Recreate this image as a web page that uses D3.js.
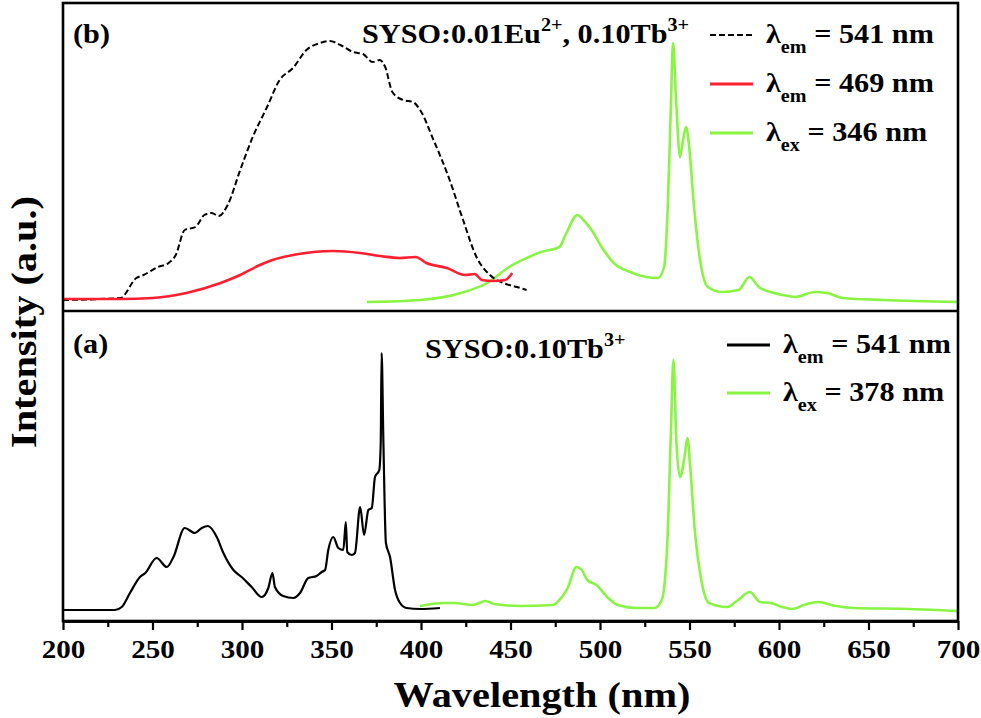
<!DOCTYPE html>
<html>
<head>
<meta charset="utf-8">
<script src="https://cdn.jsdelivr.net/npm/d3@7"></script>
<style>
  body { margin: 0; background: #fff; }
  svg { display: block; }
</style>
</head>
<body>
<div id="chart"></div>
<script>
// (b) SYSO:0.01Eu2+, 0.10Tb3+  -- [wavelength nm, intensity a.u.]
const exc541b = [[200,2],[232,4],[241,24],[245,27],[253,35],[259,39],[263,47],[268,72],[274,75],[279,87],[283,89],[287,86],[292,97],[299,132],[306,165],[314,195],[321,222],[328.5,234],[336,252],[343.6,259],[349,261],[355,257],[362,250],[367.6,248],[373,240],[377,242],[380,235],[384,210],[390,202],[395.5,200],[399.5,192],[407,162],[416,122],[423.5,82],[431,45],[438.5,27],[446,19],[453.6,15],[459,12]];
const exc469b = [[200,3],[232,3],[250,4],[269,9],[288,19],[299,27],[310,37],[317,42],[328.5,47],[340,50],[351,51],[366,49],[377,46],[388,44],[397,45],[403,39],[414.5,34],[424.6,27],[430,28],[434,22],[440,21],[447,22],[451,29]];
const emi346b = [[369.8,0],[399.7,2],[422.3,9],[438,20],[449.2,35],[460.3,45],[467,50],[477.3,55],[480.7,67],[487.4,87],[490.8,82],[495.3,72],[500.9,55],[507.7,39],[516.8,30],[525.7,25],[532.4,24],[535.8,35],[538,102],[539.7,202],[540.8,259],[542.5,202],[544.7,145],[546.4,162],[548.1,175],[550,152],[552.2,102],[555.9,42],[560.3,15],[568.2,10],[577.4,12],[583.5,25],[588.7,15],[595.4,10],[602.2,7],[608.9,5],[620.1,10],[626.8,9],[635.8,4],[658.4,2],[700,0]];

// (a) SYSO:0.10Tb3+
const exc541a = [[200,0],[229,0],[232.8,3],[237.4,17],[243,33],[246,37],[252.3,52],[258,43],[261.7,53],[268,82],[273.7,77],[277.5,82],[281,84],[285.9,73],[289.6,57],[295.2,40],[299.8,33],[305.4,23],[311,13],[314.7,22],[317,37],[318.4,23],[323,14],[328.7,12],[332.4,17],[337,32],[341.7,34],[344.5,38],[346.4,40],[348.2,60],[351,73],[353.8,62],[356.6,60],[358,88],[358.8,58],[361.3,55],[363.1,57],[366,103],[368.2,75],[370.6,100],[372.5,102],[374.3,133],[376.7,140],[377.5,167],[378,257],[379,167],[380.4,67],[382.7,53],[385.5,20],[388.3,7],[392,2],[399.4,1],[410.6,2]];
const emi378a = [[399.4,4],[412.6,7],[418.7,7],[428.9,5],[436,9],[441,6],[455.3,4],[473.6,5],[478.7,13],[481.7,21],[486.8,43],[489.8,40],[492.9,30],[498,25],[504,13],[510,5],[520.3,2],[530.4,2],[534.5,10],[537.6,67],[539.7,183],[541,250],[542.7,167],[544.7,133],[547.2,153],[548.8,172],[550.4,143],[552.8,83],[556.9,27],[560.9,7],[571,3],[577.1,10],[583.7,18],[589.4,8],[595.5,7],[601.6,3],[607.6,1],[613.7,5],[621.8,8],[632,4],[642,2],[672.6,1],[700,-1]];

const majorTicks = [200, 250, 300, 350, 400, 450, 500, 550, 600, 650, 700];
const minorTicks = [225, 275, 325, 375, 425, 475, 525, 575, 625, 675];

const legendB = [
  {sub: 'em', value: '541', color: '#000', dash: '6,3'},
  {sub: 'em', value: '469', color: '#ff1f2f', dash: null},
  {sub: 'ex', value: '346', color: '#88f543', dash: null}
];
const legendA = [
  {sub: 'em', value: '541', color: '#000', dash: null},
  {sub: 'ex', value: '378', color: '#88f543', dash: null}
];

const W = 981, H = 718;
const plotLeft = 63, plotRight = 958, plotTop = 3, plotMid = 311, plotBottom = 621;
const serif = '"Liberation Serif"';
const stretch = 1.12;

const svg = d3.select('#chart').append('svg')
    .attr('width', W)
    .attr('height', H)
    .attr('font-family', serif)
    .attr('font-weight', 'bold');

svg.append('rect').attr('width', W).attr('height', H).attr('fill', '#fff');

const x = d3.scaleLinear().domain([200, 700]).range([plotLeft, plotRight]);
const yB = d3.scaleLinear().domain([-9, 299]).range([plotMid, plotTop]);
const yA = d3.scaleLinear().domain([-11, 299]).range([plotBottom, plotMid]);

function drawLine(data, y, color, width, dash) {
  const line = d3.line()
      .x(d => x(d[0]))
      .y(d => y(d[1]))
      .curve(d3.curveMonotoneX);
  svg.append('path')
      .datum(data)
      .attr('d', line)
      .attr('fill', 'none')
      .attr('stroke', color)
      .attr('stroke-width', width)
      .attr('stroke-linejoin', 'round')
      .attr('stroke-dasharray', dash);
}

// top panel curves
drawLine(emi346b, yB, '#88f543', 2.6, null);
drawLine(exc541b, yB, '#000', 2, '6,3');
drawLine(exc469b, yB, '#ff1f2f', 2.6, null);

// bottom panel curves
drawLine(exc541a, yA, '#000', 2.2, null);
drawLine(emi378a, yA, '#88f543', 2.6, null);

// frame + divider
svg.append('rect')
    .attr('x', plotLeft).attr('y', plotTop)
    .attr('width', plotRight - plotLeft).attr('height', plotBottom - plotTop)
    .attr('fill', 'none').attr('stroke', '#000').attr('stroke-width', 2.6);
svg.append('line')
    .attr('x1', plotLeft).attr('x2', plotRight).attr('y1', plotMid).attr('y2', plotMid)
    .attr('stroke', '#000').attr('stroke-width', 2.6);

// x axis
const axisG = svg.append('g').attr('transform', `translate(0,${plotBottom})`);
axisG.call(d3.axisBottom(x).tickValues(majorTicks).tickSize(9).tickSizeOuter(0).tickFormat(d3.format('d')));
const minorG = svg.append('g').attr('transform', `translate(0,${plotBottom})`);
minorG.call(d3.axisBottom(x).tickValues(minorTicks).tickSize(6).tickSizeOuter(0).tickFormat(''));
[axisG, minorG].forEach(g => {
  g.attr('font-family', serif);
  g.select('.domain').attr('stroke-width', 2.6);
  g.selectAll('.tick line').attr('stroke-width', 2.2);
});
axisG.selectAll('.tick text')
    .attr('y', 0).attr('dy', 0)
    .attr('transform', `translate(0,37) scale(${stretch},1)`)
    .attr('fill', '#000')
    .attr('font-size', 26);

// text helpers
function stretched(px, py, anchor, size, rotate) {
  const g = svg.append('g')
      .attr('transform', `translate(${px},${py})${rotate ? ' rotate(' + rotate + ')' : ''} scale(${stretch},1)`);
  return g.append('text')
      .attr('text-anchor', anchor)
      .attr('font-size', size)
      .attr('fill', '#000');
}

function formula(px, py, pieces) {
  const t = stretched(px, py, 'start', 27);
  let shift = 0;
  pieces.forEach(p => {
    const target = p.sup ? -12 : 0;
    t.append('tspan')
        .attr('dy', target - shift)
        .attr('font-size', p.sup ? 18 : 27)
        .text(p.t);
    shift = target;
  });
}

function legend(items, x1, x2, y0, step) {
  items.forEach((d, i) => {
    const ly = y0 + i * step;
    svg.append('line')
        .attr('x1', x1).attr('x2', x2).attr('y1', ly).attr('y2', ly)
        .attr('stroke', d.color).attr('stroke-width', d.dash ? 2.2 : 3)
        .attr('stroke-dasharray', d.dash);
    const t = stretched(x2 + 13, ly + 8, 'start', 27);
    t.append('tspan').text('λ');
    t.append('tspan').attr('dy', 10).attr('font-size', 18).text(d.sub);
    t.append('tspan').attr('dy', -10).text(` = ${d.value} nm`);
  });
}

// panel tags and sample labels
stretched(73, 43, 'start', 27).text('(b)');
stretched(73, 353, 'start', 27).text('(a)');
formula(362, 43, [{t: 'SYSO:0.01Eu'}, {t: '2+', sup: true}, {t: ', 0.10Tb'}, {t: '3+', sup: true}]);
formula(425, 358, [{t: 'SYSO:0.10Tb'}, {t: '3+', sup: true}]);

legend(legendB, 710, 753, 35, 49);
legend(legendA, 727, 770, 345, 48);

// axis titles
stretched(542, 707, 'middle', 36).text('Wavelength (nm)');
stretched(36, 322, 'middle', 36, -90).text('Intensity (a.u.)');
</script>
</body>
</html>
